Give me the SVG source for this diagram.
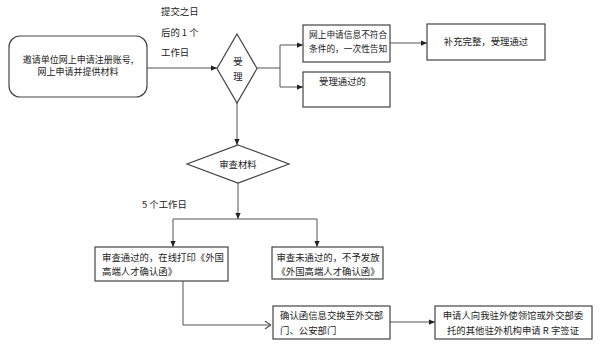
<svg xmlns="http://www.w3.org/2000/svg" width="600" height="354" viewBox="0 0 600 354">
<style>
text{font-family:"Noto Sans CJK SC","Liberation Sans",sans-serif;font-size:9.4px;fill:#222}
.box{fill:#fff;stroke:#444;stroke-width:1.2}
.ln{fill:none;stroke:#555;stroke-width:1}
.c{text-anchor:middle}
.s{font-size:8.7px}
</style>
<defs>
<marker id="ah" viewBox="0 0 8 8" refX="8" refY="4" markerWidth="6" markerHeight="6" orient="auto" markerUnits="userSpaceOnUse">
<path d="M0,0.5 L8,4 L0,7.5 Z" fill="#222"/>
</marker>
<marker id="oh" viewBox="0 0 8 10" refX="8" refY="5" markerWidth="7" markerHeight="9" orient="auto" markerUnits="userSpaceOnUse">
<path d="M1,0.5 L8,5 L1,9.5" fill="none" stroke="#444" stroke-width="1.2"/>
</marker>
</defs>
<rect width="600" height="354" fill="#fff"/>
<g id="connectors">
<path class="ln" d="M147,68 H217" marker-end="url(#ah)"/>
<path class="ln" d="M257,68 H280 V45 H303" marker-end="url(#ah)"/>
<path class="ln" d="M280,68 V87 H303" marker-end="url(#ah)"/>
<path class="ln" d="M390,43 H427" marker-end="url(#ah)"/>
<path class="ln" d="M237,103 V145" marker-end="url(#ah)"/>
<path class="ln" d="M238,183 V219" marker-end="url(#ah)"/>
<path class="ln" d="M173,219 H317"/>
<path class="ln" d="M173,219 V247" marker-end="url(#ah)"/>
<path class="ln" d="M317,219 V247" marker-end="url(#ah)"/>
<path class="ln" d="M183,281 V325 H271" marker-end="url(#oh)"/>
<path class="ln" d="M390,322 H435" marker-end="url(#ah)"/>
</g>
<g id="labels">
<text x="161" y="15">提交之日</text>
<text x="161" y="36">后的 1 个</text>
<text x="161" y="56">工作日</text>
<text x="142" y="208">5 个工作日</text>
</g>
<g id="n_start">
<rect class="box" x="9" y="36" width="138" height="61" rx="11"/>
<text class="c" x="78" y="63" style="font-size:9px">邀请单位网上申请注册账号,</text>
<text class="c" x="78" y="75" style="font-size:9px">网上申请并提供材料</text>
</g>
<g id="n_accept">
<path class="box" d="M237,34 L257,68.5 L237,103 L217,68.5 Z"/>
<text class="c" x="238" y="65">受</text>
<text class="c" x="238" y="80">理</text>
</g>
<g id="n_notok">
<rect class="box" x="303" y="25" width="87" height="37"/>
<text class="s" x="309" y="38">网上申请信息不符合</text>
<text class="s" x="309" y="52">条件的，一次性告知</text>
</g>
<g id="n_ok">
<rect class="box" x="303" y="72" width="87" height="35"/>
<text x="319" y="85">受理通过的</text>
</g>
<g id="n_supp">
<rect class="box" x="427" y="24" width="118" height="36"/>
<text class="c" x="486" y="45">补充完整，受理通过</text>
</g>
<g id="n_review">
<path class="box" d="M238,145 L289,164 L238,183 L187,164 Z"/>
<text class="c" x="238" y="168">审查材料</text>
</g>
<g id="n_pass">
<rect class="box" x="95" y="247" width="133" height="34"/>
<text x="102" y="261">审查通过的，在线打印《外国</text>
<text x="102" y="275">高端人才确认函》</text>
</g>
<g id="n_fail">
<rect class="box" x="272" y="247" width="111" height="32"/>
<text class="c" x="328" y="261">审查未通过的，不予发放</text>
<text class="c" x="328" y="275">《外国高端人才确认函》</text>
</g>
<g id="n_exchange">
<rect class="box" x="273" y="306" width="117" height="33"/>
<text x="280" y="319">确认函信息交换至外交部</text>
<text x="280" y="334">门、公安部门</text>
</g>
<g id="n_visa">
<rect class="box" x="435" y="306" width="157" height="33"/>
<text class="c" x="513" y="319">申请人向我驻外使领馆或外交部委</text>
<text class="c" x="513" y="334">托的其他驻外机构申请 R 字签证</text>
</g>
</svg>
